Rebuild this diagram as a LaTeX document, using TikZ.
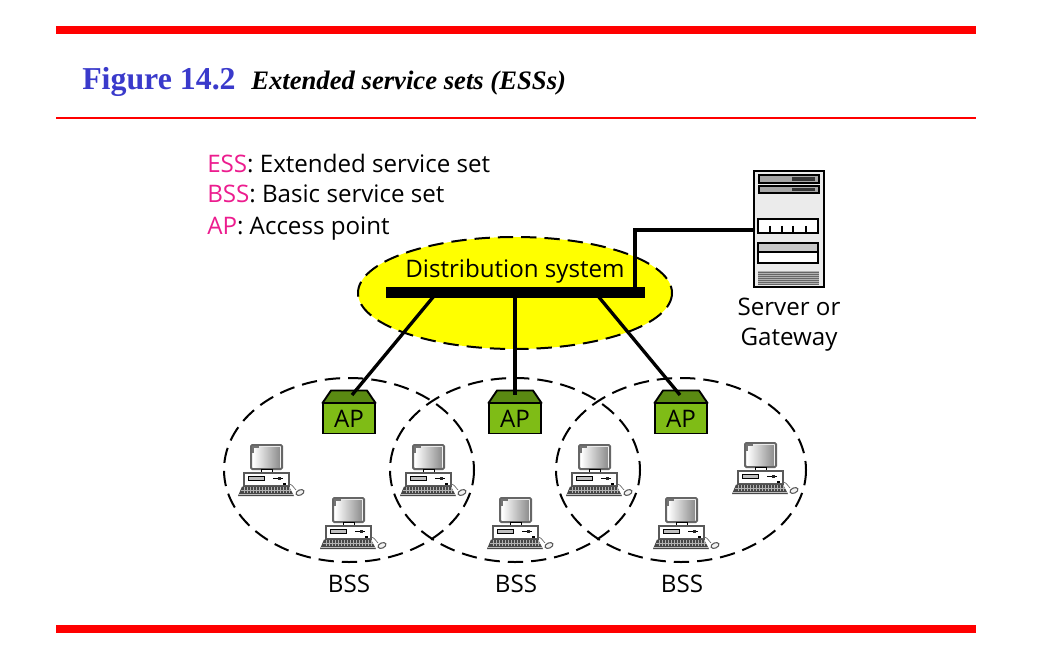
\documentclass[tikz,border=0pt]{standalone}
\usepackage{fontspec}
\setmainfont{Open Sans}
\newfontfamily\serifhead{Liberation Serif}
\usetikzlibrary{calc}
\definecolor{headred}{HTML}{FF0000}
\definecolor{headblue}{HTML}{3A3ACB}
\definecolor{labelpink}{HTML}{EC1C8E}
\definecolor{apgreen}{HTML}{7FBC16}
\definecolor{aproof}{HTML}{5A8A12}
\definecolor{dsyellow}{RGB}{255,255,0}
\tikzset{
  x=0.75pt,y=-0.75pt,
  rule/.style={fill=headred,draw=none},
  lbl/.style={inner sep=0pt,font=\fontsize{18.1pt}{22pt}\selectfont,text=black},
  keylbl/.style={lbl,anchor=base west},
  cell/.style={dash pattern=on 11.5pt off 6pt,line width=1.5pt,draw=black},
  wire/.style={line width=2.5pt,draw=black},
  apbox/.style={draw=black,fill=apgreen,line width=1.4pt,minimum width=39.5pt,minimum height=22.5pt,inner sep=0pt,font=\fontsize{18.1pt}{22pt}\selectfont},
  aprf/.style={draw=black,fill=aproof,line width=1.4pt,line join=round},
  pcline/.style={draw=black,line width=0.5pt},
  pics/pcunit/.style={code={
    \draw[line width=1.5pt,draw=black!60,fill=white,rounded corners=1pt] (0,0) rectangle (31,24);
    \shade[left color=white,right color=black!45] (2,2) rectangle (29,22);
    \draw[draw=black!55,line width=.8pt] (2,8) -- (2,2) -- (8,2);
    \draw[pcline,fill=white] (10,24) rectangle (21,27);
    \draw[pcline,fill=black!15] (4,27) rectangle (27,28);
    \draw[draw=black!65,line width=.9pt,fill=white] (-7,28) rectangle (38,41);
    \draw[pcline,fill=black!25] (-3,31.5) rectangle (13,35);
    \draw[line width=.9pt] (22,33.5) -- (32,33.5);
    \fill[black!85] (27,32) rectangle (30,35);
    \fill[black] (32,38) rectangle (35,40);
    \fill[black!72] (-13,51) -- (-9,41.5) -- (38,41.5) -- (43,51) -- cycle;
    \foreach \k in {-7,-4,...,38}{\draw[black!30,line width=.3pt] (\k,42) -- (\k,48);}
    \draw[black!30,line width=.3pt] (-10,45) -- (40,45);
    \draw[black!25,line width=.5pt] (-12,49) -- (42,49);
    \draw[black!60,line width=.5pt] (38,39) .. controls (41,39) and (43,43) .. (45,45);
    \draw[draw=black!65,fill=black!5,line width=.8pt,rotate around={25:(49,47.5)}] (49,47.5) ellipse (4.2 and 2.6);
  }}
}
\begin{document}
\begin{tikzpicture}
\useasboundingbox (0,0) rectangle (1041,645);
% page rules
\fill[rule] (56,26) rectangle (976,34);
\fill[rule] (56,117) rectangle (976,119);
\fill[rule] (56,625) rectangle (976,633);
\node[anchor=base west,inner sep=0pt,text=headblue,font=\serifhead\bfseries\fontsize{23.9pt}{28pt}\selectfont] (figno) at (82,90) {Figure 14.2};
\node[anchor=base west,inner sep=0pt,font=\serifhead\bfseries\itshape\fontsize{20pt}{24pt}\selectfont] (figtitle) at (251,90) {Extended service sets (ESSs)};
% key
\node[keylbl] (k1) at (207,173) {\textcolor{labelpink}{ESS}: Extended service set};
\node[keylbl] (k2) at (207,203) {\textcolor{labelpink}{BSS}: Basic service set};
\node[keylbl] (k3) at (207,234) {\textcolor{labelpink}{AP}: Access point};
% distribution system
\draw[cell,fill=dsyellow] (515,293) ellipse (157 and 56);
\node[lbl] (ds) at (515,271.5) {Distribution system};
\node[fill=black,draw=none,inner sep=0pt,minimum width=194.25pt,minimum height=8.25pt] (bar) at (515.5,292.5) {};
% BSS ellipses
\draw[cell] (349,470) ellipse (125 and 92);
\draw[cell] (515,470) ellipse (125 and 92);
\draw[cell] (681,470) ellipse (125 and 92);
% access points
\foreach \n/\c in {apa/349,apb/515,apc/681}{
  \draw[aprf] (\c-26.5,403) -- (\c-18,390.5) -- (\c+18,390.5) -- (\c+26.5,403) -- cycle;
  \node[apbox] (\n) at (\c,418.5) {AP};
}
% server
\node[draw=black,fill=black!8,line width=2pt,minimum width=52.5pt,minimum height=87pt,inner sep=0pt] (srv) at (789,229) {};
\draw[line width=1pt,fill=black!35] (759,175) rectangle (819,183);
\fill[black!80] (792,177) rectangle (815,181);
\draw[line width=1pt,fill=black!35] (759,186) rectangle (819,193);
\fill[black!80] (792,188) rectangle (815,191.5);
\draw[line width=1pt,fill=white] (758,219) rectangle (818,233);
\foreach \t in {770,782,793,806}{\draw[line width=.8pt] (\t,226) -- (\t,233);}
\draw[line width=.8pt,fill=white] (758,243) rectangle (818,263);
\draw[line width=.8pt,fill=black!22] (758,243) rectangle (818,252);
\fill[black!30] (758,271) rectangle (819,284);
\foreach \t in {272,274,...,284}{\draw[black!60,line width=.5pt] (758,\t) -- (819,\t);}
\node[lbl,align=center] (srvlbl) at (789,325) {Server or\\[0.5pt]Gateway};
% wires
\coordinate (ba) at (434,296);
\coordinate (bb) at (515,296);
\coordinate (bc) at (598,296);
\coordinate (bd) at (635,289);
\coordinate (ea) at (352,395);
\coordinate (eb) at (515,395);
\coordinate (ec) at (680,395);
\draw[wire] (ba) -- (ea);
\draw[wire] (bb) -- (eb);
\draw[wire] (bc) -- (ec);
\draw[wire] (bd) |- (srv.west |- 0,230);
% computers
\foreach \px/\py in {251/445,333/498,413/445,500/498,579/445,666/498,745/443}{
  \pic at (\px,\py) {pcunit};
}
% BSS labels
\node[lbl] (ba1) at (349,583.5) {BSS};
\node[lbl] (ba2) at (516,583.5) {BSS};
\node[lbl] (ba3) at (682,583.5) {BSS};
\end{tikzpicture}
\end{document}
